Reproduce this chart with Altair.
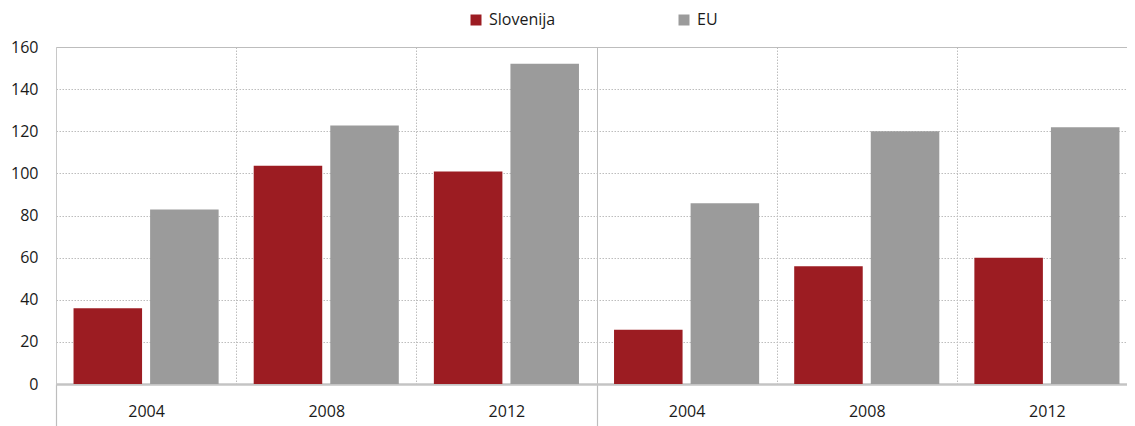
import altair as alt
import pandas as pd

# Data
groups = ["1", "1", "1", "2", "2", "2"]
years = ["2004", "2008", "2012", "2004", "2008", "2012"]
slovenija = [36.0, 103.6, 100.9, 25.8, 55.9, 60.0]
eu = [82.9, 122.7, 152.1, 85.8, 120.0, 121.9]
series = ["Slovenija", "EU"]
colors = ["#9C1C22", "#9B9B9B"]

rows = []
for g, y, s, e in zip(groups, years, slovenija, eu):
    key = f"{g} {y}"
    rows.append({"cat": key, "series": "Slovenija", "value": s})
    rows.append({"cat": key, "series": "EU", "value": e})
df = pd.DataFrame(rows)
cat_order = [f"{g} {y}" for g, y in zip(groups, years)]
# with tickBand "extent", each value's tick sits at its band end; the extra tick (index -1) sits at the start
group_ends = [cat_order[i - 1] for i, y in enumerate(years) if y == "2004" and i > 0]

FONT = "Open Sans"
sep_test = " || ".join([f"datum.value === '{k}'" for k in group_ends])
tick_test = f"datum.index === -1 || {sep_test}"

chart = alt.Chart(df).mark_bar().encode(
    x=alt.X(
        "cat:N",
        sort=cat_order,
        scale=alt.Scale(domain=cat_order, paddingInner=0, paddingOuter=0, range=[0, 1081]),
        axis=alt.Axis(
            title=None,
            labelExpr="slice(datum.label, 2)",
            labelAngle=0,
            labelFont=FONT,
            labelFontSize=16,
            labelColor="#1a1a1a",
            tickBand="extent",
            tickSize=44,
            tickWidth=1.2,
            tickColor={"condition": {"test": tick_test, "value": "#bdbdbd"}, "value": "transparent"},
            labelPadding=-25,
            domainColor="#c4c4c4",
            domainWidth=2.5,
            grid=True,
            gridColor="#bdbdbd",
            gridWidth=1,
            gridDash={"condition": {"test": sep_test, "value": []}, "value": [1.5, 1.5]},
        ),
    ),
    xOffset=alt.XOffset(
        "series:N",
        sort=series,
        scale=alt.Scale(domain=series, paddingInner=0.105, paddingOuter=0.229),
    ),
    y=alt.Y(
        "value:Q",
        scale=alt.Scale(domain=[0, 160], nice=False),
        axis=alt.Axis(
            title=None,
            values=[0, 20, 40, 60, 80, 100, 120, 140, 160],
            ticks=False,
            labelFont=FONT,
            labelFontSize=16,
            labelColor="#1a1a1a",
            labelPadding=18,
            domainColor="#c8c8c8",
            domainWidth=1,
            grid=True,
            gridColor="#bdbdbd",
            gridWidth=1,
            gridDash={"condition": {"test": "datum.value === 160", "value": []}, "value": [1.5, 1.5]},
        ),
    ),
    color=alt.Color(
        "series:N",
        sort=series,
        scale=alt.Scale(domain=series, range=colors),
        legend=alt.Legend(
            title=None,
            orient="none",
            direction="horizontal",
            legendX=412,
            legendY=-35,
            symbolType="square",
            symbolSize=121,
            symbolStrokeWidth=0,
            labelFont=FONT,
            labelFontSize=16,
            labelColor="#1a1a1a",
            labelOffset=5,
            columnPadding=120,
        ),
    ),
).properties(
    width=1071,
    height=337,
    autosize=alt.AutoSizeParams(type="none"),
    padding={"left": 48, "top": 39, "right": 0, "bottom": 44},
).configure_view(
    strokeWidth=0
)

chart.save("out.html", embed_options={"renderer": "svg", "actions": False})
